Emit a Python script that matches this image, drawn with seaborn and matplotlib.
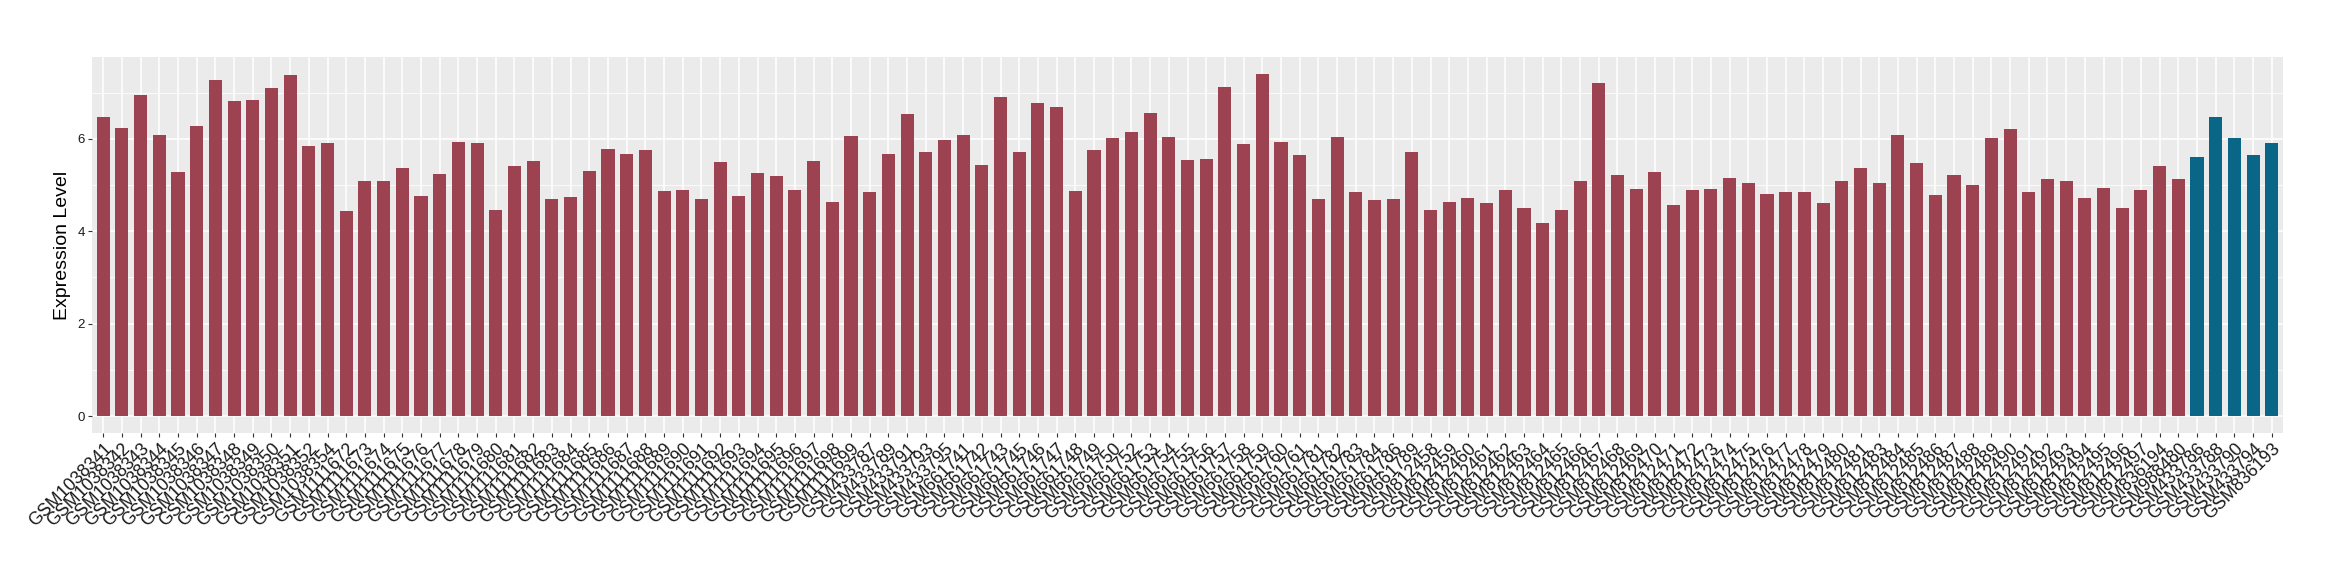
import matplotlib
matplotlib.use("Agg")
import matplotlib.pyplot as plt
import seaborn as sns
import pandas as pd
from matplotlib.ticker import FixedLocator

samples = [
    "GSM1038341", "GSM1038342", "GSM1038343", "GSM1038344", "GSM1038345", "GSM1038346",
    "GSM1038347", "GSM1038348", "GSM1038349", "GSM1038350", "GSM1038351", "GSM1038352",
    "GSM1038354",
    "GSM1111672", "GSM1111673", "GSM1111674", "GSM1111675", "GSM1111676", "GSM1111677",
    "GSM1111678", "GSM1111679", "GSM1111680", "GSM1111681", "GSM1111682", "GSM1111683",
    "GSM1111684", "GSM1111685", "GSM1111686", "GSM1111687", "GSM1111688", "GSM1111689",
    "GSM1111690", "GSM1111691", "GSM1111692", "GSM1111693", "GSM1111694", "GSM1111695",
    "GSM1111696", "GSM1111697", "GSM1111698", "GSM1111699",
    "GSM433787", "GSM433789", "GSM433791", "GSM433793", "GSM433795",
    "GSM661741", "GSM661742", "GSM661743", "GSM661745", "GSM661746", "GSM661747",
    "GSM661748", "GSM661749", "GSM661750", "GSM661752", "GSM661753", "GSM661754",
    "GSM661755", "GSM661756", "GSM661757", "GSM661758", "GSM661759", "GSM661760",
    "GSM661761", "GSM661781", "GSM661782", "GSM661783", "GSM661784", "GSM661786",
    "GSM661789",
    "GSM812458", "GSM812459", "GSM812460", "GSM812461", "GSM812462", "GSM812463",
    "GSM812464", "GSM812465", "GSM812466", "GSM812467", "GSM812468", "GSM812469",
    "GSM812470", "GSM812471", "GSM812472", "GSM812473", "GSM812474", "GSM812475",
    "GSM812476", "GSM812477", "GSM812478", "GSM812479", "GSM812480", "GSM812481",
    "GSM812483", "GSM812484", "GSM812485", "GSM812486", "GSM812487", "GSM812488",
    "GSM812489", "GSM812490", "GSM812491", "GSM812492", "GSM812493", "GSM812494",
    "GSM812495", "GSM812496", "GSM812497",
    "GSM836194", "GSM988480",
    "GSM433786", "GSM433788", "GSM433790", "GSM433794", "GSM836193",
]

values = [
    6.48, 6.24, 6.95, 6.09, 5.28, 6.28, 7.28, 6.82, 6.85, 7.10, 7.39, 5.85, 5.91, 4.44, 5.09, 5.09,
    5.37, 4.77, 5.24, 5.93, 5.91, 4.45, 5.41, 5.52, 4.70, 4.75, 5.31, 5.78, 5.67, 5.76, 4.88,
    4.90, 4.70, 5.50, 4.77, 5.26, 5.20, 4.90, 5.52, 4.64, 6.06, 4.85, 5.67, 6.53, 5.72, 5.97,
    6.08, 5.44, 6.90, 5.72, 6.77, 6.68, 4.88, 5.76, 6.02, 6.15, 6.56, 6.04, 5.54, 5.56, 7.12,
    5.89, 7.40, 5.93, 5.65, 4.70, 6.04, 4.85, 4.68, 4.70, 5.72, 4.47, 4.64, 4.73, 4.62, 4.90,
    4.51, 4.19, 4.47, 5.09, 7.20, 5.22, 4.92, 5.28, 4.57, 4.90, 4.92, 5.16, 5.05, 4.81, 4.85,
    4.85, 4.62, 5.09, 5.37, 5.05, 6.08, 5.48, 4.79, 5.22, 5.01, 6.02, 6.21, 4.85, 5.13,
    5.09, 4.72, 4.94, 4.50, 4.89, 5.41, 5.13,
    5.61, 6.48, 6.02, 5.65, 5.91,
]

group_names = ["Group1", "Group2"]
group_sizes = [112, 5]
groups = [group_names[0]] * group_sizes[0] + [group_names[1]] * group_sizes[1]
colors = {"Group1": "#9C4250", "Group2": "#0A6687"}

df = pd.DataFrame({"sample": samples, "value": values, "group": groups})

sns.set_theme(style="darkgrid")
plt.rcParams["font.family"] = ["Liberation Sans", "DejaVu Sans"]

W, H = 2340, 580
fig = plt.figure(figsize=(W / 100, H / 100), dpi=100)
fig.patch.set_facecolor("white")
left, right, top, bottom = 92, 2283, 57, 433.3
ax = fig.add_axes([left / W, 1 - bottom / H, (right - left) / W, (bottom - top) / H])

sns.barplot(data=df, x="sample", y="value", hue="group", palette=colors,
            order=samples, dodge=False, width=0.7, legend=False, ax=ax,
            saturation=1, linewidth=0, errorbar=None)

ax.set_facecolor("#EBEBEB")
for s in ax.spines.values():
    s.set_visible(False)

ax.set_xlim(-0.6, len(samples) - 1 + 0.6)
ax.set_ylim(-0.372, 7.772)
ax.yaxis.set_major_locator(FixedLocator([0, 2, 4, 6]))
ax.yaxis.set_minor_locator(FixedLocator([1, 3, 5, 7]))
ax.grid(which="major", axis="both", color="white", linewidth=1.1)
ax.grid(which="minor", axis="y", color="white", linewidth=0.55)
ax.set_axisbelow(True)

ax.tick_params(axis="both", which="major", length=3, width=0.8, color="#333333",
               direction="out", bottom=True, left=True)
ax.tick_params(axis="both", which="minor", length=0)
ax.tick_params(axis="y", labelsize=9.5, labelcolor="#1A1A1A", pad=2)
ax.tick_params(axis="x", labelsize=12.8, labelcolor="#1A1A1A", pad=2)
for lab in ax.get_xticklabels():
    lab.set_rotation(45)
    lab.set_ha("right")
    lab.set_va("top")
    lab.set_rotation_mode("anchor")

ax.set_xlabel("")
ax.set_ylabel("Expression Level", fontsize=14, color="black", labelpad=5)

fig.savefig("out.png", dpi=100, facecolor="white")
